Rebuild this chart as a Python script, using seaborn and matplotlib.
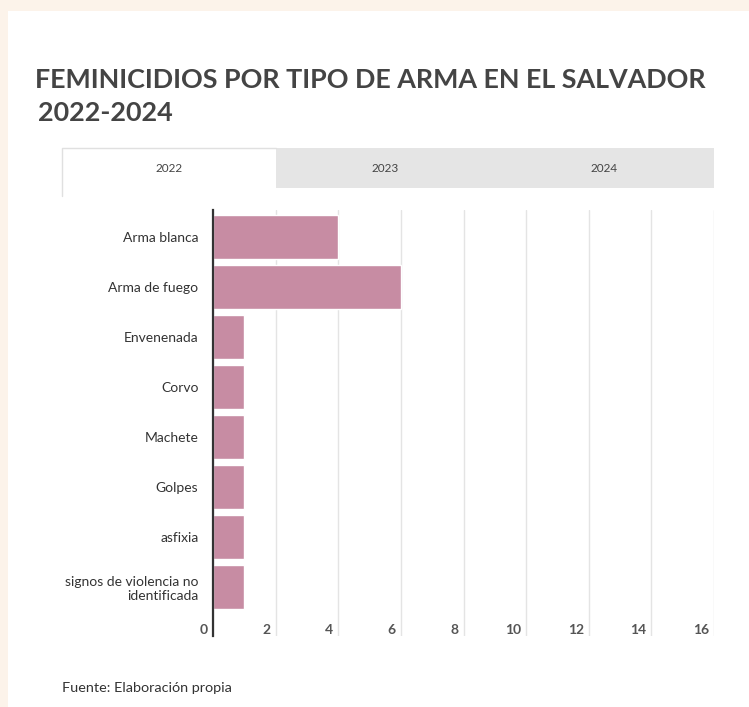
import matplotlib
matplotlib.use("Agg")
import matplotlib.pyplot as plt
import matplotlib.transforms as mtransforms
from matplotlib.patches import Rectangle
import seaborn as sns
import pandas as pd

# Feminicidios por tipo de arma, año 2022
tipos = [
    "Arma blanca",
    "Arma de fuego",
    "Envenenada",
    "Corvo",
    "Machete",
    "Golpes",
    "asfixia",
    "signos de violencia no\nidentificada",
]
casos_2022 = [4, 6, 1, 1, 1, 1, 1, 1]
pestanas = ["2022", "2023", "2024"]
x_ticks = [0, 2, 4, 6, 8, 10, 12, 14, 16]

titulo = "FEMINICIDIOS POR TIPO DE ARMA EN EL SALVADOR"
subtitulo = "2022-2024"
fuente = "Fuente: Elaboración propia"

sns.set_style("white")
plt.rcParams["font.family"] = ["Lato", "DejaVu Sans"]

W, H = 749, 707
fig = plt.figure(figsize=(W / 100, H / 100), dpi=100)
fig.patch.set_facecolor("#fcf3ea")


def fx(px):
    return px / W


def fy(py):
    return 1 - py / H


def frect(x0, y0, x1, y1, **kw):
    # rectangle given in pixel coordinates from the top-left corner
    r = Rectangle((fx(x0), fy(y1)), fx(x1) - fx(x0), fy(y0) - fy(y1),
                  transform=fig.transFigure, **kw)
    fig.add_artist(r)
    return r


# white card
frect(8, 11, W + 2, H + 2, facecolor="white", edgecolor="none", zorder=0)

# titles
fig.text(fx(35), fy(80), titulo, fontsize=19.4, color="#444444",
         fontweight="bold", va="center", ha="left")
fig.text(fx(38), fy(113), subtitulo, fontsize=19.4, color="#444444",
         fontweight="bold", va="center", ha="left")

# tab bar
tab_edges = [62, 276, 495, 714]
frect(tab_edges[1], 148, tab_edges[3], 188, facecolor="#e5e5e5",
      edgecolor="none", zorder=1)
frect(tab_edges[0], 149, tab_edges[1], 196, facecolor="white",
      edgecolor="none", zorder=1)
fig.add_artist(plt.Line2D([fx(62), fx(62), fx(276)], [fy(196), fy(148), fy(148)],
                          transform=fig.transFigure, color="#e0e0e0", lw=1, zorder=2))
for i, lab in enumerate(pestanas):
    cx = (tab_edges[i] + tab_edges[i + 1]) / 2
    fig.text(fx(cx), fy(168), lab, fontsize=8.5, color="#444444",
             ha="center", va="center")

# bar chart
ax_left, ax_right, ax_top, ax_bottom = 213, 714, 210, 636
ax = fig.add_axes([fx(ax_left), fy(ax_bottom), fx(ax_right) - fx(ax_left),
                   fy(ax_top) - fy(ax_bottom)])
ax.set_facecolor("none")

df = pd.DataFrame({"tipo": tipos, "casos": casos_2022})
sns.barplot(data=df, y="tipo", x="casos", orient="h", color="#c78ca3",
            saturation=1, width=0.88, ax=ax, zorder=2)

ax.set_xlim(0, 16)
ax.set_ylim(7.98, -0.54)
ax.set_xticks(x_ticks)
ax.set_xticklabels([str(t) for t in x_ticks])
ax.grid(axis="x", color="#e4e4e4", lw=1)
ax.grid(axis="y", visible=False)
ax.set_axisbelow(True)
for s in ["top", "right", "bottom"]:
    ax.spines[s].set_visible(False)
ax.spines["left"].set_color("#333333")
ax.spines["left"].set_linewidth(1.6)
ax.spines["left"].set_zorder(3)
ax.set_xlabel("")
ax.set_ylabel("")

ax.tick_params(axis="y", length=0, pad=10.5, labelsize=10, labelcolor="#333333")
ax.tick_params(axis="x", length=0, pad=-9, labelsize=10, labelcolor="#555555")
shift = mtransforms.ScaledTranslation(-5 / 100, 0, fig.dpi_scale_trans)
for lbl in ax.get_xticklabels():
    lbl.set_horizontalalignment("right")
    lbl.set_fontweight("bold")
    lbl.set_transform(lbl.get_transform() + shift)
for lbl in ax.get_yticklabels():
    lbl.set_multialignment("right")

fig.text(fx(62), fy(688), fuente, fontsize=10.4, color="#333333",
         ha="left", va="center")

fig.savefig("out.png", dpi=100, facecolor=fig.get_facecolor())
